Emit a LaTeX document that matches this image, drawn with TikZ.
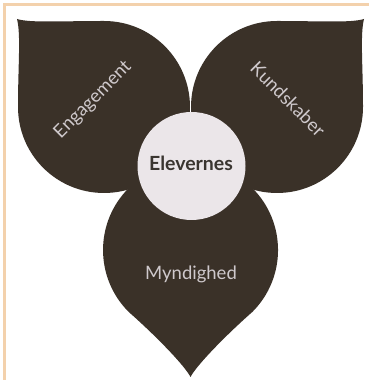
\documentclass[tikz,border=0pt]{standalone}
\usepackage{fontspec}
\setmainfont{Lato}
\definecolor{leaf}{HTML}{3A3128}
\definecolor{hub}{HTML}{EBE6E9}
\definecolor{leaftext}{HTML}{CFC9CC}
\definecolor{hubtext}{HTML}{3A3530}
\definecolor{frame}{HTML}{F3D1AC}
\tikzset{
  leafshape/.style={fill=leaf, draw=none},
  leaflabel/.style={text=leaftext, font=\fontsize{18.5}{18.5}\selectfont, inner sep=0pt},
  hublabel/.style={text=hubtext, font=\bfseries\fontsize{19.5}{19.5}\selectfont, inner sep=0pt},
}
\begin{document}
\begin{tikzpicture}[x=1pt,y=1pt]
\useasboundingbox (0,0) rectangle (369,380);
\fill[white] (0,0) rectangle (369,380);
\draw[frame, line width=3pt] (4.5,0) -- (4.5,375) -- (369,375);
% left leaf
\path[leafshape] (17,361) .. controls (30,357) and (60,359) .. (104,359)
  arc[start angle=90, end angle=-180, radius=86]
  .. controls (18,315) and (21,345) .. (17,361) -- cycle;
% right leaf
\path[leafshape] (364,361) .. controls (351,357) and (321,359) .. (277,359)
  arc[start angle=90, end angle=360, radius=86]
  .. controls (363,315) and (360,345) .. (364,361) -- cycle;
% bottom leaf
\path[leafshape] (190.5,3) .. controls (196,14) and (225,44) .. (252.4,68.1)
  arc[start angle=-45, end angle=225, radius=87.5]
  .. controls (156,44) and (185,14) .. (190.5,3) -- cycle;
% hub
\node[circle, fill=hub, minimum size=108pt, inner sep=0pt] (hub) at (191.5,214) {};
\node[hublabel, anchor=base] (elev) at (191,209) {Elevernes};
\node[leaflabel, anchor=base] (mynd) at (191,100) {Myndighed};
\node[leaflabel, rotate=45] (eng) at (93,280) {Engagement};
\node[leaflabel, rotate=-45] (kund) at (288,281) {Kundskaber};
\end{tikzpicture}
\end{document}
